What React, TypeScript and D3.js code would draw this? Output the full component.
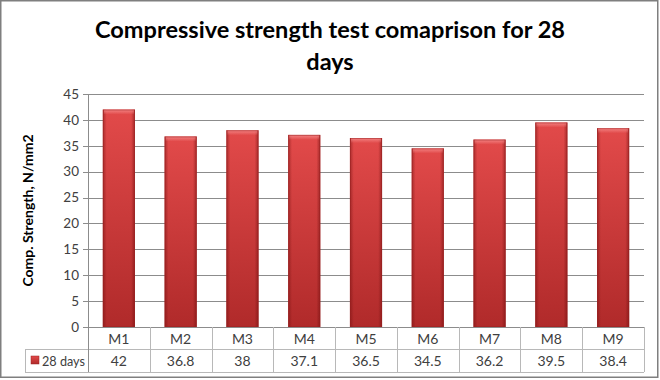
import React from "react";
import * as d3 from "d3";

const categories = ["M1", "M2", "M3", "M4", "M5", "M6", "M7", "M8", "M9"];
const values = [42, 36.8, 38, 37.1, 36.5, 34.5, 36.2, 39.5, 38.4];
const valueLabels = ["42", "36.8", "38", "37.1", "36.5", "34.5", "36.2", "39.5", "38.4"];
const yTicks = [0, 5, 10, 15, 20, 25, 30, 35, 40, 45];
const seriesName = "28 days";
const titleLines = ["Compressive strength test comaprison for 28", "days"];
const yTitle = "Comp. Strength, N/mm2";

const W = 660;
const H = 380;
const plotL = 88;
const plotR = 644;
const plotT = 94;
const plotB = 327;
const row1B = 349;
const row2B = 372;
const tableL = 25;

const FONT = "Lato, 'Open Sans', 'DejaVu Sans', sans-serif";

export default function App() {
  const x = d3
    .scaleBand<string>()
    .domain(categories)
    .range([plotL, plotR])
    .paddingInner(0.48)
    .paddingOuter(0.24);
  const y = d3.scaleLinear().domain([0, 45]).range([plotB, plotT]);
  const step = x.step();
  const colLeft = (i: number) => plotL + i * step;

  return (
    <svg
      width={W}
      height={H}
      style={{ position: "absolute", left: 0, top: 0, background: "#fff" }}
      fontFamily={FONT}
    >
      <defs>
        <linearGradient id="barV" x1="0" y1="0" x2="0" y2="1">
          <stop offset="0" stopColor="#e24a4a" />
          <stop offset="1" stopColor="#b02a2a" />
        </linearGradient>
        <linearGradient id="barH" x1="0" y1="0" x2="1" y2="0">
          <stop offset="0" stopColor="#6a0c0c" stopOpacity="0.45" />
          <stop offset="0.12" stopColor="#6a0c0c" stopOpacity="0" />
          <stop offset="0.88" stopColor="#6a0c0c" stopOpacity="0" />
          <stop offset="1" stopColor="#6a0c0c" stopOpacity="0.5" />
        </linearGradient>
        <linearGradient id="barTop" x1="0" y1="0" x2="0" y2="1">
          <stop offset="0" stopColor="#f58a8a" stopOpacity="0.9" />
          <stop offset="1" stopColor="#f58a8a" stopOpacity="0" />
        </linearGradient>
      </defs>
      <rect x={0.75} y={0.75} width={W - 3} height={H - 3.5} fill="#fff" stroke="#7f7f7f" strokeWidth={1.5} />

      {/* title */}
      {titleLines.map((t, i) => (
        <text
          key={i}
          x={330}
          y={38 + i * 32}
          textAnchor="middle"
          fontSize={23.5}
          fontWeight="bold"
          fill="#000"
          textLength={i === 0 ? 470 : undefined}
          lengthAdjust="spacingAndGlyphs"
        >
          {t}
        </text>
      ))}

      {/* gridlines */}
      {yTicks.map((t) => (
        <line
          key={t}
          x1={plotL - 5}
          x2={plotR}
          y1={Math.round(y(t)) + 0.5}
          y2={Math.round(y(t)) + 0.5}
          stroke="#8c8c8c"
          strokeWidth={1}
        />
      ))}
      {yTicks.map((t) => (
        <text
          key={"l" + t}
          x={79}
          y={y(t)}
          dy="0.35em"
          textAnchor="end"
          fontSize={13.5}
          fill="#404040"
        >
          {t}
        </text>
      ))}

      {/* y title */}
      <text
        transform={`translate(33,${(plotT + plotB) / 2}) rotate(-90)`}
        textAnchor="middle"
        fontSize={14}
        fontWeight="bold"
        fill="#000"
      >
        {yTitle}
      </text>

      {/* bars */}
      {categories.map((c, i) => {
        const bx = x(c)!;
        const bw = x.bandwidth();
        const by = y(values[i]);
        const bh = plotB - by;
        return (
          <g key={c}>
            <rect x={bx} y={by} width={bw} height={bh} fill="url(#barV)" />
            <rect x={bx} y={by} width={bw} height={bh} fill="url(#barH)" />
            <rect x={bx + 1} y={by} width={bw - 2} height={5} fill="url(#barTop)" />
            <rect x={bx + 0.5} y={by + 0.5} width={bw - 1} height={bh - 1} fill="none" stroke="#9a2020" strokeOpacity={0.5} />
          </g>
        );
      })}

      {/* table */}
      <g stroke="#b8b8b8" strokeWidth={1} fill="none">
        <line x1={tableL} x2={plotR} y1={row1B + 0.5} y2={row1B + 0.5} />
        <line x1={tableL} x2={plotR} y1={row2B + 0.5} y2={row2B + 0.5} />
        <line x1={tableL + 0.5} x2={tableL + 0.5} y1={row1B} y2={row2B} />
        {categories.map((c, i) => (
          <line key={c} x1={Math.round(colLeft(i + 1)) + 0.5} x2={Math.round(colLeft(i + 1)) + 0.5} y1={plotB} y2={row2B} />
        ))}
      </g>
      <line x1={plotL + 0.5} x2={plotL + 0.5} y1={plotT} y2={row2B} stroke="#8c8c8c" />

      {categories.map((c) => (
        <text key={"c" + c} x={x(c)! + x.bandwidth() / 2} y={(plotB + row1B) / 2 + 1} dy="0.35em" textAnchor="middle" fontSize={14} fill="#404040">
          {c}
        </text>
      ))}
      {categories.map((c, i) => (
        <text key={"v" + c} x={x(c)! + x.bandwidth() / 2} y={(row1B + row2B) / 2 + 1} dy="0.35em" textAnchor="middle" fontSize={14} fill="#404040">
          {valueLabels[i]}
        </text>
      ))}

      {/* legend key */}
      <rect x={31} y={356} width={8} height={8} fill="url(#barV)" stroke="#9a2020" strokeWidth={0.5} />
      <text x={42} y={(row1B + row2B) / 2 + 1} dy="0.35em" fontSize={13.5} fill="#404040" textLength={43} lengthAdjust="spacingAndGlyphs">
        {seriesName}
      </text>
    </svg>
  );
}
